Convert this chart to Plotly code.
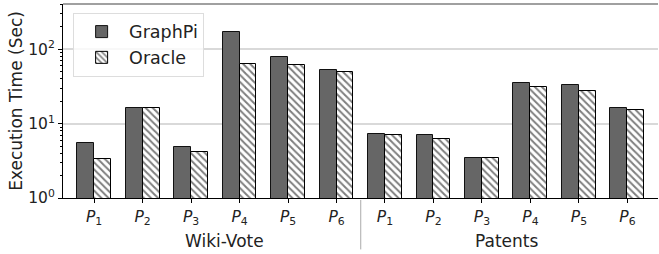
import plotly.graph_objects as go

datasets = ["Wiki-Vote", "Patents"]
patterns = ["1", "2", "3", "4", "5", "6"]
graphpi = [5.5, 16.2, 4.85, 170, 78.5, 52.5, 7.3, 7.1, 3.5, 34.8, 33.4, 16.3]
oracle = [3.4, 16.2, 4.1, 63, 61, 49, 7.05, 6.2, 3.5, 31, 27.7, 15.2]
x_idx = list(range(len(graphpi)))
tick_text = [f"<i>P</i><sub>{p}</sub>" for d in datasets for p in patterns]
group_pos = [2.7, 8.5]

fig = go.Figure()
fig.add_trace(go.Bar(
    x=x_idx, y=graphpi, name="GraphPi", width=0.35, offset=-0.35,
    marker=dict(color="#666666", line=dict(color="#111111", width=1)),
))
fig.add_trace(go.Bar(
    x=x_idx, y=oracle, name="Oracle", width=0.35, offset=0,
    marker=dict(color="white", line=dict(color="black", width=1),
                pattern=dict(shape="\\", size=5, solidity=0.4, fgcolor="black", bgcolor="white")),
))

fig.update_layout(
    width=659, height=254,
    margin=dict(l=63, r=1, t=4, b=55.5, autoexpand=False),
    plot_bgcolor="white", paper_bgcolor="white",
    font=dict(family="DejaVu Sans", size=16, color="#222222"),
    barmode="overlay",
    bargap=0,
    showlegend=True,
    legend=dict(x=0.017, y=0.955, xanchor="left", yanchor="top",
                bgcolor="rgba(255,255,255,0.8)", bordercolor="#dddddd", borderwidth=1,
                font=dict(size=17.5), itemwidth=45, tracegroupgap=0),
)
fig.update_xaxes(
    range=[-0.64, 11.63], tickmode="array", tickvals=x_idx, ticktext=tick_text,
    showgrid=False, showline=True, linecolor="black", linewidth=1,
    ticks="outside", ticklen=4, tickcolor="black", tickfont=dict(size=15.5),
    zeroline=False, automargin=False,
)
fig.update_yaxes(
    type="log", range=[0, 2.61], tickmode="array", tickvals=[1, 10, 100],
    ticktext=["10<sup>0</sup>", "10<sup>1</sup>", "10<sup>2</sup>"],
    showgrid=True, gridcolor="#d9d9d9", gridwidth=1.5,
    showline=True, linecolor="black", linewidth=1,
    ticks="outside", ticklen=4, tickcolor="black", tickfont=dict(size=15.5),
    minor=dict(ticks="outside", ticklen=2, tickcolor="black",
               tickvals=[v * m for v in [1, 10, 100] for m in range(2, 10)], showgrid=False),
    title=dict(text="Execution Time (Sec)", font=dict(size=17), standoff=1),
    automargin=False,
)
# top spine
fig.add_shape(type="line", xref="paper", yref="paper", x0=0, x1=1, y0=1, y1=1,
              line=dict(color="#808080", width=1.5))
# separator between groups
fig.add_shape(type="line", xref="x", yref="paper", x0=5.5, x1=5.5, y0=-0.01, y1=-0.265,
              line=dict(color="#aaaaaa", width=1))
for name, pos in zip(datasets, group_pos):
    fig.add_annotation(text=name, x=pos, xref="x", y=-0.224, yref="paper",
                       showarrow=False, yanchor="middle", font=dict(size=17))

fig.write_html("out.html", config={"displayModeBar": False},
               post_script="document.body.style.margin='0';document.body.style.overflow='hidden';")
